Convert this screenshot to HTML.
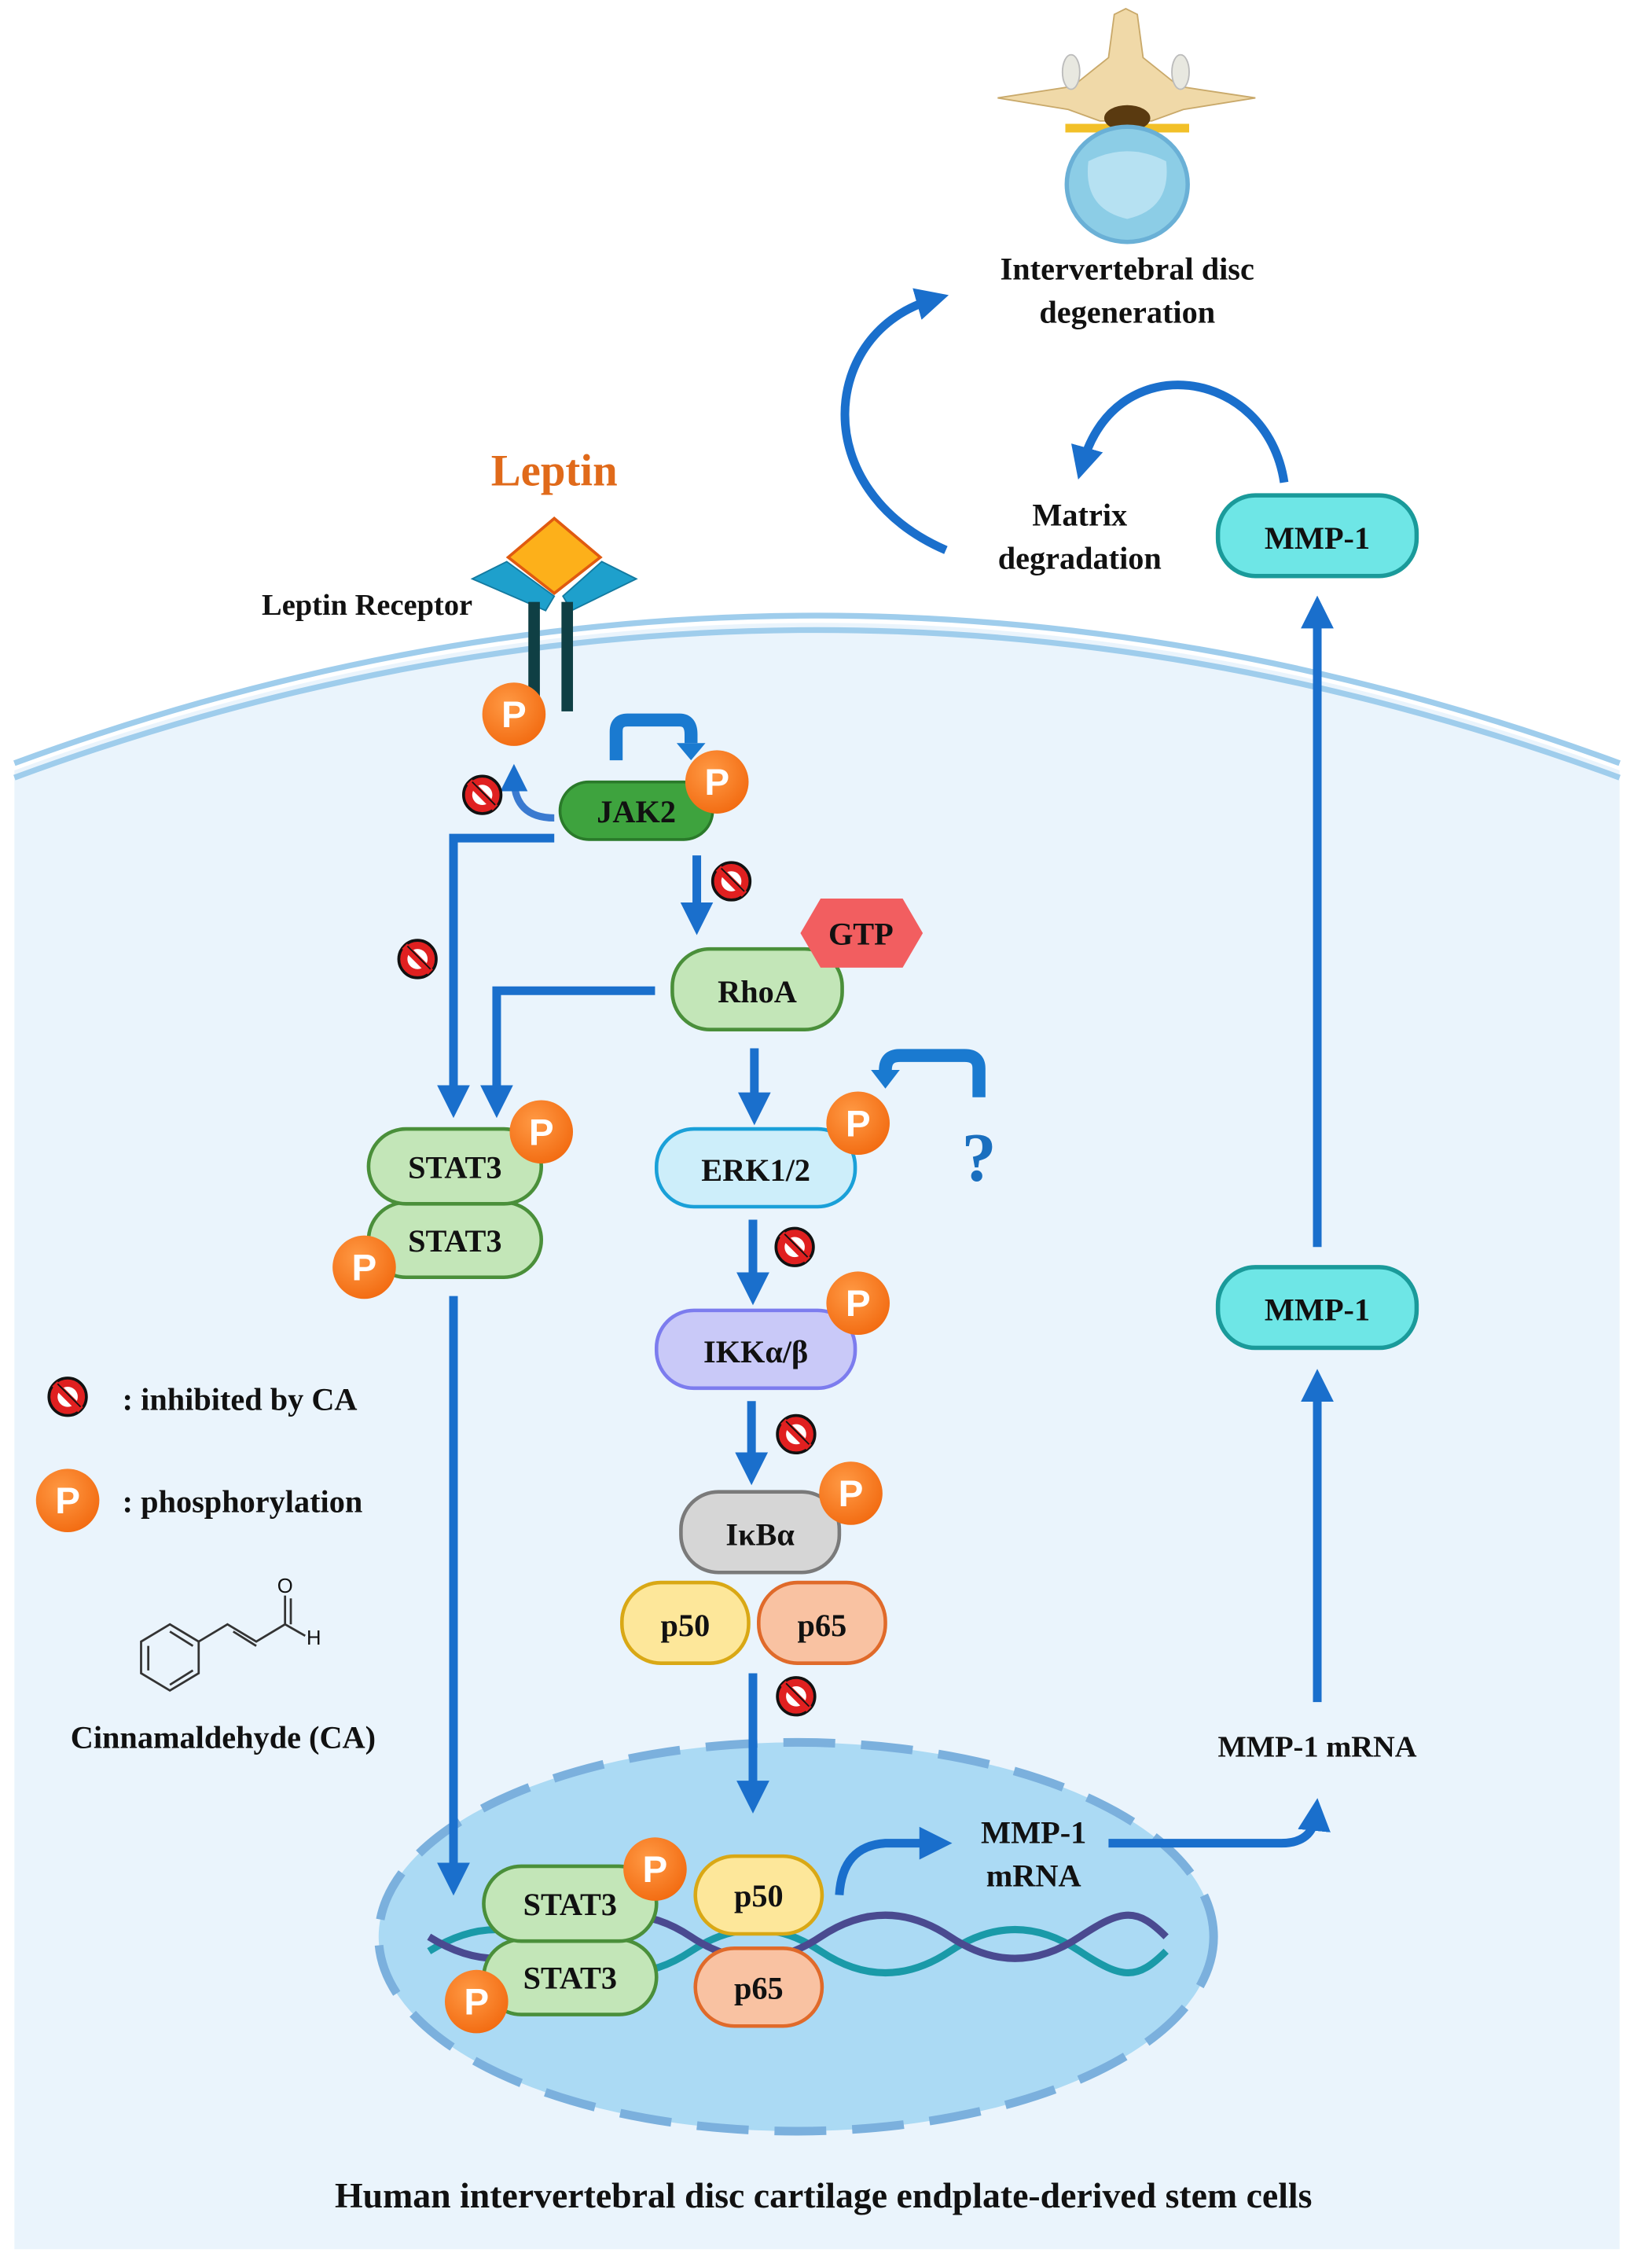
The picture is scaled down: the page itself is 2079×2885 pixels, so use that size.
<!DOCTYPE html>
<html><head><meta charset="utf-8"><style>
html,body{margin:0;padding:0;background:#fff}
svg{display:block}
text{font-family:"Liberation Serif",serif;font-weight:bold;fill:#111}
</style></head><body>
<svg width="2079" height="2885" viewBox="0 0 1135 1575" xmlns="http://www.w3.org/2000/svg">
<defs>
<radialGradient id="pg" cx="0.4" cy="0.35" r="0.7"><stop offset="0" stop-color="#ff9a45"/><stop offset="1" stop-color="#f26a10"/></radialGradient>
<marker id="ah" viewBox="0 0 10 10" refX="5" refY="5" markerWidth="3.8" markerHeight="3.8" orient="auto"><path d="M0,0 L10,5 L0,10 z" fill="#1a6fcc"/></marker>
<g id="P"><circle r="22" fill="url(#pg)"/><text x="0" y="9" text-anchor="middle" style="font-family:'Liberation Sans',sans-serif;font-size:26px;fill:#fff">P</text></g>
<g id="X"><circle r="13" fill="#e02020" stroke="#111" stroke-width="2"/><circle r="7" fill="#fff"/><line x1="-9" y1="-9" x2="9" y2="9" stroke="#e02020" stroke-width="5"/><line x1="-7" y1="-9" x2="9" y2="7" stroke="#111" stroke-width="1"/></g>
</defs>
<!-- cell -->
<path d="M10,535 Q567,330 1125,535 L1125,1562 L10,1562 Z" fill="#eaf4fc"/>
<path d="M10,530 Q567,325 1125,530" fill="none" stroke="#9fcdec" stroke-width="4"/>
<path d="M10,540 Q567,335 1125,540" fill="none" stroke="#9fcdec" stroke-width="4"/>
<!-- nucleus -->
<ellipse cx="553" cy="1345" rx="290" ry="135" fill="#abdaf4"/>
<ellipse cx="553" cy="1345" rx="290" ry="135" fill="none" stroke="#7bb0dd" stroke-width="6" stroke-dasharray="36,18"/>
<!-- DNA -->
<path d="M298,1355 C330,1335 360,1335 390,1355 S450,1375 480,1355 S540,1335 570,1355 S630,1375 660,1355 S720,1335 750,1355 S790,1375 810,1355" fill="none" stroke="#1a9aa8" stroke-width="5"/>
<path d="M298,1345 C330,1365 360,1365 390,1345 S450,1325 480,1345 S540,1365 570,1345 S630,1325 660,1345 S720,1365 750,1345 S790,1325 810,1345" fill="none" stroke="#4a4a90" stroke-width="5"/>
<!-- spine -->
<path d="M693,68 L745,60 L770,40 L774,10 L782,6 L790,10 L794,40 L819,60 L872,68 L822,76 L800,84 L764,84 L742,76 Z" fill="#f0d9a8" stroke="#c9a96a"/>
<ellipse cx="744" cy="50" rx="6" ry="12" fill="#e8e8e0" stroke="#bbb"/><ellipse cx="820" cy="50" rx="6" ry="12" fill="#e8e8e0" stroke="#bbb"/>
<path d="M740,86 L826,86 L826,92 L740,92 Z" fill="#f2c028"/>
<ellipse cx="783" cy="82" rx="16" ry="9" fill="#5a3a10"/>
<ellipse cx="783" cy="128" rx="42" ry="40" fill="#8ccde6" stroke="#6ab0d6" stroke-width="3"/>
<path d="M756,112 Q783,98 810,112 Q814,145 783,152 Q752,145 756,112Z" fill="#b6e1f2"/>
<text x="783" y="194" text-anchor="middle" font-size="22">Intervertebral disc</text>
<text x="783" y="224" text-anchor="middle" font-size="22">degeneration</text>
<!-- cycle arrows -->
<path d="M657,382 C560,340 570,230 648,208" fill="none" stroke="#1a6fcc" stroke-width="6" marker-end="url(#ah)"/>
<path d="M892,335 C880,255 775,240 752,322" fill="none" stroke="#1a6fcc" stroke-width="6" marker-end="url(#ah)"/>
<text x="750" y="365" text-anchor="middle" font-size="22">Matrix</text>
<text x="750" y="395" text-anchor="middle" font-size="22">degradation</text>
<rect x="846" y="344" width="138" height="56" rx="26" fill="#6ee6e6" stroke="#1a9a9a" stroke-width="3"/>
<text x="915" y="381" text-anchor="middle" font-size="22">MMP-1</text>
<line x1="915" y1="866" x2="915" y2="425" stroke="#1a6fcc" stroke-width="6" marker-end="url(#ah)"/>
<rect x="846" y="880" width="138" height="56" rx="26" fill="#6ee6e6" stroke="#1a9a9a" stroke-width="3"/>
<text x="915" y="917" text-anchor="middle" font-size="22">MMP-1</text>
<line x1="915" y1="1182" x2="915" y2="962" stroke="#1a6fcc" stroke-width="6" marker-end="url(#ah)"/>
<text x="915" y="1220" text-anchor="middle" font-size="21">MMP-1 mRNA</text>
<path d="M770,1280 L890,1280 Q912,1280 914,1260" fill="none" stroke="#1a6fcc" stroke-width="6" marker-end="url(#ah)"/>
<!-- leptin -->
<text x="385" y="337" text-anchor="middle" font-size="31" style="fill:#e06a1a">Leptin</text>
<path d="M328,402 L352,390 L385,414 L379,424 Z" fill="#1ea0cc" stroke="#137aa0"/>
<path d="M442,402 L418,390 L391,414 L397,424 Z" fill="#1ea0cc" stroke="#137aa0"/>
<path d="M385,360 L417,387 L385,412 L353,387 Z" fill="#fdb01a" stroke="#e05a10" stroke-width="2"/>
<rect x="367" y="418" width="8" height="75" fill="#0f3f44"/>
<rect x="390" y="418" width="8" height="76" fill="#0f3f44"/>
<text x="255" y="427" text-anchor="middle" font-size="21">Leptin Receptor</text>
<!-- JAK2 -->
<path d="M428,528 L428,508 Q428,500 436,500 L472,500 Q480,500 480,510 L480,516" fill="none" stroke="#1a7ad0" stroke-width="9"/>
<path d="M470,516 L490,516 L480,528 Z" fill="#1a7ad0"/>
<path d="M385,568 Q357,568 357,540" fill="none" stroke="#3a7ad0" stroke-width="5" marker-end="url(#ah)"/>
<rect x="389" y="543" width="106" height="40" rx="20" fill="#3ea33e" stroke="#2a7a2a" stroke-width="2"/>
<text x="442" y="571" text-anchor="middle" font-size="22">JAK2</text>
<use href="#P" x="357" y="496"/><use href="#P" x="498" y="543"/>
<use href="#X" x="335" y="552"/>
<path d="M385,582 L315,582 L315,765" fill="none" stroke="#1a6fcc" stroke-width="6" marker-end="url(#ah)"/>
<path d="M455,688 L345,688 L345,765" fill="none" stroke="#1a6fcc" stroke-width="6" marker-end="url(#ah)"/>
<use href="#X" x="290" y="666"/>
<line x1="484" y1="594" x2="484" y2="638" stroke="#1a6fcc" stroke-width="6" marker-end="url(#ah)"/>
<use href="#X" x="508" y="612"/>
<!-- RhoA -->
<rect x="467" y="659" width="118" height="56" rx="26" fill="#c3e6b8" stroke="#4a8f3a" stroke-width="2.5"/>
<text x="526" y="696" text-anchor="middle" font-size="22">RhoA</text>
<path d="M570,624 L627,624 L641,648 L627,672 L570,672 L556,648 Z" fill="#f25e60"/>
<text x="598" y="656" text-anchor="middle" font-size="22">GTP</text>
<line x1="524" y1="728" x2="524" y2="770" stroke="#1a6fcc" stroke-width="6" marker-end="url(#ah)"/>
<!-- STAT3 cyto -->
<rect x="256" y="835" width="120" height="52" rx="26" fill="#c3e6b8" stroke="#4a8f3a" stroke-width="2.5"/>
<rect x="256" y="784" width="120" height="52" rx="26" fill="#c3e6b8" stroke="#4a8f3a" stroke-width="2.5"/>
<text x="316" y="818" text-anchor="middle" font-size="22">STAT3</text>
<text x="316" y="869" text-anchor="middle" font-size="22">STAT3</text>
<use href="#P" x="376" y="786"/><use href="#P" x="253" y="880"/>
<line x1="315" y1="900" x2="315" y2="1305" stroke="#1a6fcc" stroke-width="6" marker-end="url(#ah)"/>
<!-- ERK -->
<path d="M680,762 L680,742 Q680,733 670,733 L625,733 Q615,733 615,743" fill="none" stroke="#1a7ad0" stroke-width="9"/>
<path d="M605,743 L625,743 L615,756 Z" fill="#1a7ad0"/>
<text x="680" y="820" text-anchor="middle" font-size="48" style="fill:#1a6fbf">?</text>
<rect x="456" y="784" width="138" height="54" rx="26" fill="#cdeefa" stroke="#1aa0d8" stroke-width="2.5"/>
<text x="525" y="820" text-anchor="middle" font-size="22">ERK1/2</text>
<use href="#P" x="596" y="780"/>
<line x1="523" y1="847" x2="523" y2="895" stroke="#1a6fcc" stroke-width="6" marker-end="url(#ah)"/>
<use href="#X" x="552" y="866"/>
<!-- IKK -->
<rect x="456" y="910" width="138" height="54" rx="26" fill="#c9c9f8" stroke="#7c7cee" stroke-width="2.5"/>
<text x="525" y="946" text-anchor="middle" font-size="22">IKKα/β</text>
<use href="#P" x="596" y="905"/>
<line x1="522" y1="973" x2="522" y2="1020" stroke="#1a6fcc" stroke-width="6" marker-end="url(#ah)"/>
<use href="#X" x="553" y="996"/>
<!-- IkB -->
<rect x="473" y="1036" width="110" height="56" rx="26" fill="#d6d6d6" stroke="#7a7a7a" stroke-width="2.5"/>
<text x="528" y="1073" text-anchor="middle" font-size="22">IκBα</text>
<use href="#P" x="591" y="1037"/>
<rect x="432" y="1099" width="88" height="56" rx="27" fill="#fde79a" stroke="#d9a815" stroke-width="2.5"/>
<text x="476" y="1136" text-anchor="middle" font-size="22">p50</text>
<rect x="527" y="1099" width="88" height="56" rx="27" fill="#f9c2a2" stroke="#e06a2a" stroke-width="2.5"/>
<text x="571" y="1136" text-anchor="middle" font-size="22">p65</text>
<line x1="523" y1="1162" x2="523" y2="1248" stroke="#1a6fcc" stroke-width="6" marker-end="url(#ah)"/>
<use href="#X" x="553" y="1178"/>
<!-- nucleus proteins -->
<rect x="336" y="1347" width="120" height="52" rx="26" fill="#c3e6b8" stroke="#4a8f3a" stroke-width="2.5"/>
<rect x="336" y="1296" width="120" height="52" rx="26" fill="#c3e6b8" stroke="#4a8f3a" stroke-width="2.5"/>
<text x="396" y="1330" text-anchor="middle" font-size="22">STAT3</text>
<text x="396" y="1381" text-anchor="middle" font-size="22">STAT3</text>
<use href="#P" x="455" y="1298"/><use href="#P" x="331" y="1390"/>
<rect x="483" y="1353" width="88" height="54" rx="27" fill="#f9c2a2" stroke="#e06a2a" stroke-width="2.5"/>
<text x="527" y="1388" text-anchor="middle" font-size="22">p65</text>
<rect x="483" y="1289" width="88" height="54" rx="27" fill="#fde79a" stroke="#d9a815" stroke-width="2.5"/>
<text x="527" y="1324" text-anchor="middle" font-size="22">p50</text>
<path d="M583,1316 Q585,1282 615,1280 L650,1280" fill="none" stroke="#1a6fcc" stroke-width="6" marker-end="url(#ah)"/>
<text x="718" y="1280" text-anchor="middle" font-size="22">MMP-1</text>
<text x="718" y="1310" text-anchor="middle" font-size="22">mRNA</text>
<!-- legend -->
<use href="#X" x="47" y="970"/>
<text x="85" y="979" font-size="22">: inhibited by CA</text>
<use href="#P" x="47" y="1042"/>
<text x="85" y="1050" font-size="22">: phosphorylation</text>
<g fill="none" stroke="#333" stroke-width="1.5">
<path d="M118,1128 L138,1140 L138,1162 L118,1174 L98,1162 L98,1140 Z"/>
<path d="M103,1143 L103,1160 M118,1170 L134,1160 M134,1143 L118,1133"/>
<path d="M138,1140 L158,1128 L178,1140 L198,1128 L198,1108 M198,1128 L212,1136 M162,1133 L178,1143 M202,1128 L202,1110"/>
</g>
<text x="198" y="1106" text-anchor="middle" style="font-family:'Liberation Sans',sans-serif;font-weight:normal;font-size:14px">O</text>
<text x="218" y="1142" text-anchor="middle" style="font-family:'Liberation Sans',sans-serif;font-weight:normal;font-size:14px">H</text>
<text x="155" y="1214" text-anchor="middle" font-size="22">Cinnamaldehyde (CA)</text>
<text x="572" y="1533" text-anchor="middle" font-size="25">Human intervertebral disc cartilage endplate-derived stem cells</text>
</svg>
</body></html>
